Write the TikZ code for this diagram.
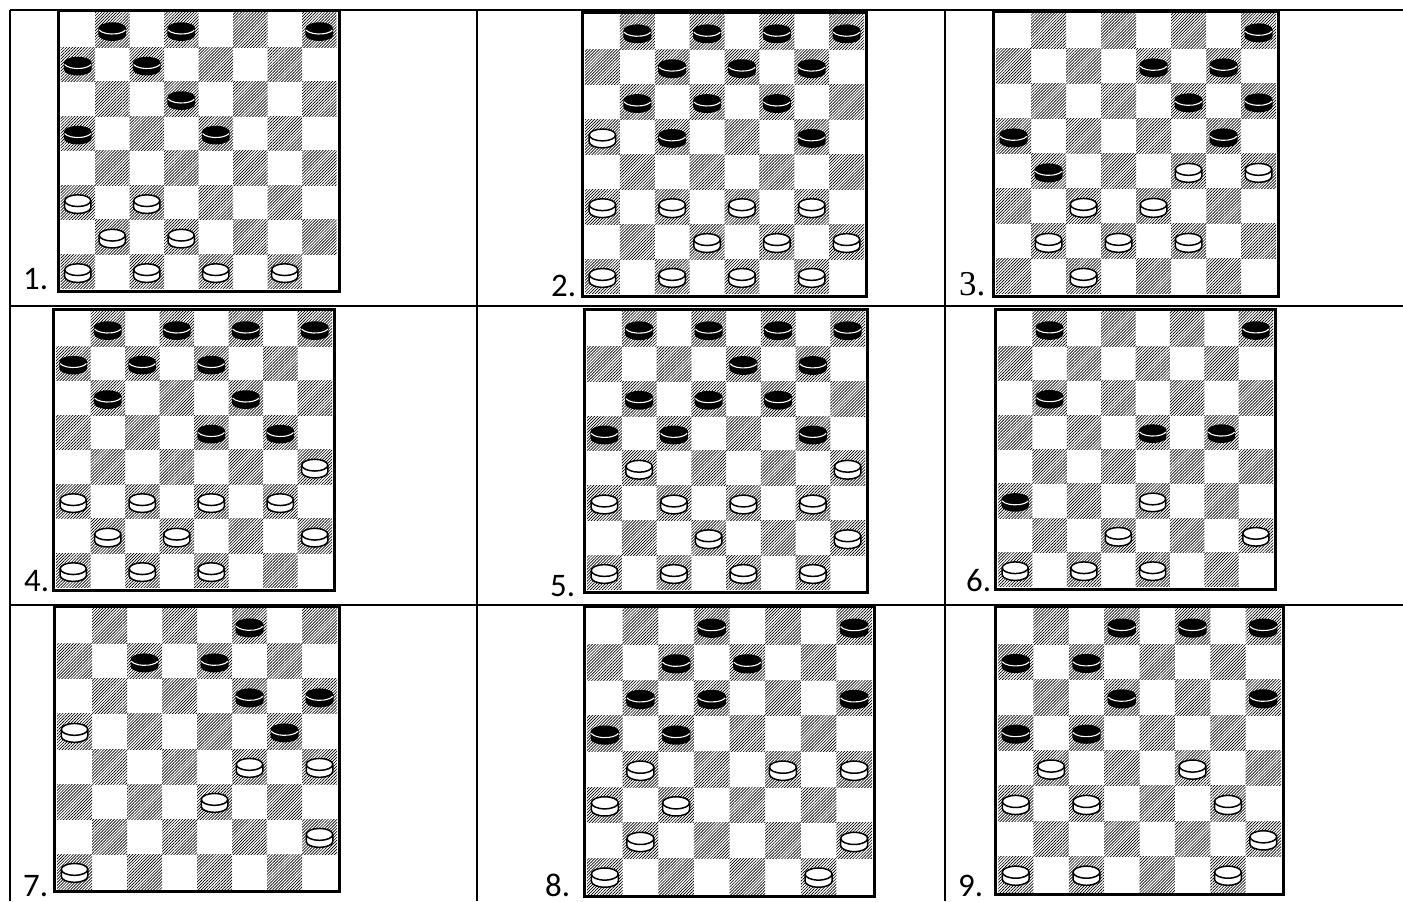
\documentclass[tikz,border=0pt]{standalone}
\usepackage{fontspec}
\setmainfont{Carlito}
\newfontfamily\serifnum{Liberation Serif}
\usetikzlibrary{patterns.meta}

\tikzset{
  tableline/.style={line width=2bp, black},
  boardframe/.style={line width=3bp, black},
  hatch/.style={pattern={Lines[angle=45,distance=2.1bp,line width=0.65bp]}, pattern color=black},
  lbl/.style={anchor=base west, inner sep=0pt, font=\fontsize{33}{33}\selectfont},
  lblserif/.style={anchor=base west, inner sep=0pt, font=\serifnum\fontsize{35}{35}\selectfont},
}

\newcommand\bpiece[2]{%
  \pgfmathsetmacro\pcx{#1}\pgfmathsetmacro\pcy{#2+0.06*\sq}%
  \fill[black] ({\pcx-\rx},\pcy) -- ({\pcx-\rx},{\pcy-\ph})
    arc[start angle=180,end angle=360,x radius=\rx,y radius=\ry]
    -- ({\pcx+\rx},\pcy)
    arc[start angle=0,end angle=180,x radius=\rx,y radius=\ry] -- cycle;
  \draw[white, line width=1.1bp] ({\pcx+\rx*cos(198)},{\pcy+\ry*sin(198)})
    arc[start angle=198,end angle=342,x radius=\rx,y radius=\ry];
}
\newcommand\wpiece[2]{%
  \pgfmathsetmacro\pcx{#1}\pgfmathsetmacro\pcy{#2+0.06*\sq}%
  \pgfmathsetmacro\wrx{\rx-0.75}%
  \filldraw[fill=white, draw=black, line width=1.5bp, line join=round]
    ({\pcx-\wrx},\pcy) -- ({\pcx-\wrx},{\pcy-\ph})
    arc[start angle=180,end angle=360,x radius=\wrx,y radius=\ry]
    -- ({\pcx+\wrx},\pcy)
    arc[start angle=0,end angle=180,x radius=\wrx,y radius=\ry] -- cycle;
  \draw[line width=1.5bp] ({\pcx-\wrx},\pcy)
    arc[start angle=180,end angle=360,x radius=\wrx,y radius=\ry];
}
% #1 left x, #2 top y (image coords), #3 outer size, #4 black pieces r/c, #5 white pieces r/c
\newcommand\chboard[5]{%
  \pgfmathsetmacro\bX{#1}%
  \pgfmathsetmacro\bY{901-#2}%
  \pgfmathsetmacro\bS{#3}%
  \pgfmathsetmacro\sq{(#3-8)/8}%
  \pgfmathsetmacro\iX{#1+4}%
  \pgfmathsetmacro\iY{901-#2-4}%
  \pgfmathsetmacro\rx{0.4*\sq}%
  \pgfmathsetmacro\ry{0.17*\sq}%
  \pgfmathsetmacro\ph{0.2*\sq}%
  \foreach \r in {1,...,8}{\foreach \c in {1,...,8}{%
    \ifodd\numexpr\r+\c\relax
      \fill[hatch] ({\iX+(\c-1)*\sq},{\iY-(\r-1)*\sq}) rectangle ++(\sq,-\sq);
    \fi}}%
  \draw[boardframe] ({\bX+1.5},{\bY-1.5}) rectangle ({\bX+\bS-1.5},{\bY-\bS+1.5});
  \foreach \r/\c in {#4}{\bpiece{\iX+(\c-0.5)*\sq}{\iY-(\r-0.5)*\sq}}%
  \foreach \r/\c in {#5}{\wpiece{\iX+(\c-0.5)*\sq}{\iY-(\r-0.5)*\sq}}%
}

\begin{document}
\begin{tikzpicture}[x=1bp,y=1bp]
\useasboundingbox (0,0) rectangle (1403,901);
\fill[white] (0,0) rectangle (1403,901);

% table grid
\draw[tableline] (10,891) -- (1403,891);
\draw[tableline] (10,595) -- (1403,595);
\draw[tableline] (10,296) -- (1403,296);
\draw[tableline] (10,891) -- (10,0);
\draw[tableline] (477,891) -- (477,0);
\draw[tableline] (945,891) -- (945,0);

% boards
\chboard{56.5}{9}{284}
  {1/2,1/4,1/8,2/1,2/3,3/4,4/1,4/5}
  {6/1,6/3,7/2,7/4,8/1,8/3,8/5,8/7}
\chboard{581}{11}{287}
  {1/2,1/4,1/6,1/8,2/3,2/5,2/7,3/2,3/4,3/6,4/3,4/7}
  {4/1,6/1,6/3,6/5,6/7,7/4,7/6,7/8,8/1,8/3,8/5,8/7}
\chboard{992}{10}{288}
  {1/8,2/5,2/7,3/6,3/8,4/1,4/7,5/2}
  {5/6,5/8,6/3,6/5,7/2,7/4,7/6,8/3}
\chboard{52}{308}{284}
  {1/2,1/4,1/6,1/8,2/1,2/3,2/5,3/2,3/6,4/5,4/7}
  {5/8,6/1,6/3,6/5,6/7,7/2,7/4,7/8,8/1,8/3,8/5}
\chboard{583}{308}{286}
  {1/2,1/4,1/6,1/8,2/5,2/7,3/2,3/4,3/6,4/1,4/3,4/7}
  {5/2,5/8,6/1,6/3,6/5,6/7,7/4,7/8,8/1,8/3,8/5,8/7}
\chboard{994}{308}{283}
  {1/2,1/8,3/2,4/5,4/7,6/1}
  {6/5,7/4,7/8,8/1,8/3,8/5}
\chboard{53}{605}{288}
  {1/6,2/3,2/5,3/6,3/8,4/7}
  {4/1,5/6,5/8,6/5,7/8,8/1}
\chboard{583}{605}{293}
  {1/4,1/8,2/3,2/5,3/2,3/4,3/8,4/1,4/3}
  {5/2,5/6,5/8,6/1,6/3,7/2,7/8,8/1,8/7}
\chboard{994}{605}{291}
  {1/4,1/6,1/8,2/1,2/3,3/4,3/8,4/1,4/3}
  {5/2,5/6,6/1,6/3,6/7,7/8,8/1,8/3,8/7}

% labels
\node[lbl] (l1) at (23,611) {1.};
\node[lbl] (l2) at (551,604) {2.};
\node[lblserif] (l3) at (959,605) {3.};
\node[lbl] (l4) at (24,309) {4.};
\node[lbl] (l5) at (550,304) {5.};
\node[lbl] (l6) at (966,309) {6.};
\node[lbl] (l7) at (23,5) {7.};
\node[lbl] (l8) at (545,5) {8.};
\node[lbl] (l9) at (958,5) {9.};
\end{tikzpicture}
\end{document}
